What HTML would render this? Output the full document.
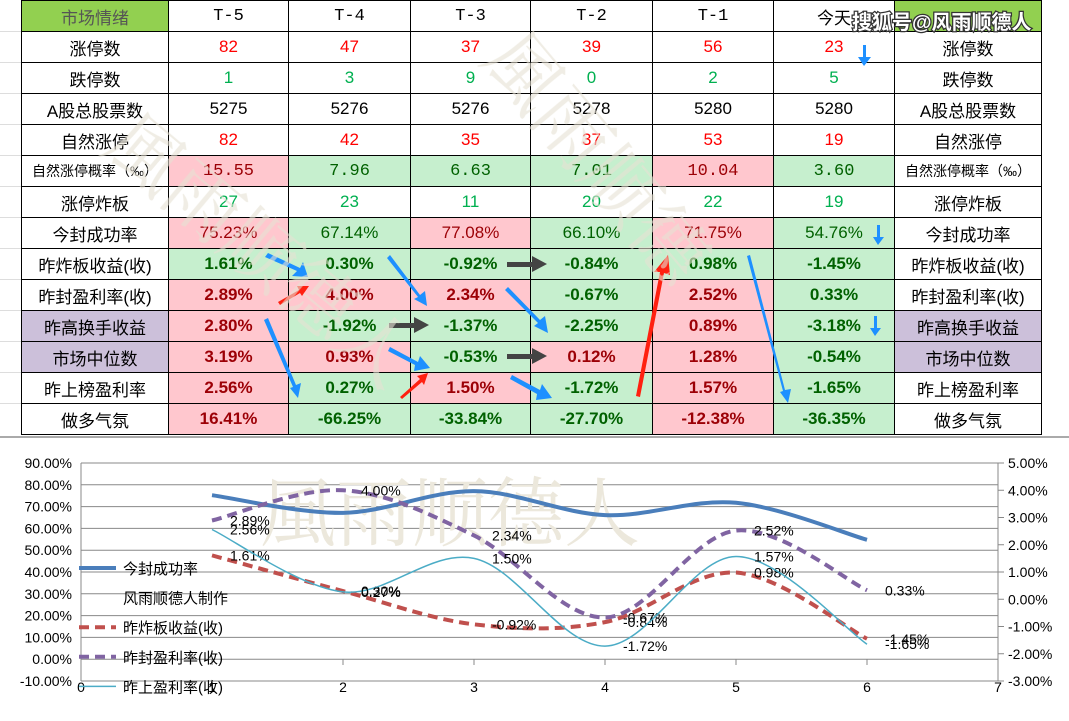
<!DOCTYPE html>
<html><head><meta charset="utf-8"><style>
body{margin:0;width:1069px;height:721px;background:#fff;position:relative;overflow:hidden;font-family:"Liberation Sans","Noto Sans CJK SC",sans-serif}
table{position:absolute;left:21px;top:0;border-collapse:collapse;table-layout:fixed}
td{border:1px solid #000;height:30px;padding:0;text-align:center;font-size:17px;white-space:nowrap;overflow:hidden}
td.l{font-family:"Liberation Sans","Noto Sans CJK SC",sans-serif;color:#000}
.s{font-family:"Liberation Sans","Noto Sans CJK SC",sans-serif}
.m{font-family:"Liberation Mono","Noto Sans CJK SC",monospace}
.r{color:#ff0000}.g{color:#00b050}
.P{background:#ffc7ce;color:#9c0006}.G{background:#c6efce;color:#006100}
.b td.P,.b td.G{font-weight:bold}
.pu{background:#ccc0da}
.hd{background:#92d050;color:#555}
.grid{position:absolute;left:0;width:21px;height:1px;background:#ddd}
</style></head><body>
<div class="grid" style="top:31px"></div><div class="grid" style="top:62px"></div><div class="grid" style="top:93px"></div><div class="grid" style="top:124px"></div><div class="grid" style="top:155px"></div><div class="grid" style="top:186px"></div><div class="grid" style="top:217px"></div><div class="grid" style="top:248px"></div><div class="grid" style="top:279px"></div><div class="grid" style="top:310px"></div><div class="grid" style="top:341px"></div><div class="grid" style="top:372px"></div><div class="grid" style="top:403px"></div>
<table>
<colgroup><col style="width:147px"><col style="width:120px"><col style="width:122px"><col style="width:120px"><col style="width:122px"><col style="width:121px"><col style="width:121px"><col style="width:147px"></colgroup>
<tr><td class="hd">市场情绪</td><td class="m">T-5</td><td class="m">T-4</td><td class="m">T-3</td><td class="m">T-2</td><td class="m">T-1</td><td class="s">今天</td><td class="hd"></td></tr>
<tr><td class="l">涨停数</td><td class="s r">82</td><td class="s r">47</td><td class="s r">37</td><td class="s r">39</td><td class="s r">56</td><td class="s r">23</td><td class="l">涨停数</td></tr>
<tr><td class="l">跌停数</td><td class="s g">1</td><td class="s g">3</td><td class="s g">9</td><td class="s g">0</td><td class="s g">2</td><td class="s g">5</td><td class="l">跌停数</td></tr>
<tr><td class="l">A股总股票数</td><td class="s">5275</td><td class="s">5276</td><td class="s">5276</td><td class="s">5278</td><td class="s">5280</td><td class="s">5280</td><td class="l">A股总股票数</td></tr>
<tr><td class="l">自然涨停</td><td class="s r">82</td><td class="s r">42</td><td class="s r">35</td><td class="s r">37</td><td class="s r">53</td><td class="s r">19</td><td class="l">自然涨停</td></tr>
<tr><td class="l" style="font-size:14px">自然涨停概率（‰）</td><td class="m P">15.55</td><td class="m G">7.96</td><td class="m G">6.63</td><td class="m G">7.01</td><td class="m P">10.04</td><td class="m G">3.60</td><td class="l" style="font-size:14px">自然涨停概率（‰）</td></tr>
<tr><td class="l">涨停炸板</td><td class="s g">27</td><td class="s g">23</td><td class="s g">11</td><td class="s g">20</td><td class="s g">22</td><td class="s g">19</td><td class="l">涨停炸板</td></tr>
<tr><td class="l">今封成功率</td><td class="P">75.23%</td><td class="G">67.14%</td><td class="P">77.08%</td><td class="G">66.10%</td><td class="P">71.75%</td><td class="G">54.76%</td><td class="l">今封成功率</td></tr>
<tr class="b"><td class="l">昨炸板收益(收)</td><td class="G">1.61%</td><td class="G">0.30%</td><td class="G">-0.92%</td><td class="G">-0.84%</td><td class="G">0.98%</td><td class="G">-1.45%</td><td class="l">昨炸板收益(收)</td></tr>
<tr class="b"><td class="l">昨封盈利率(收)</td><td class="P">2.89%</td><td class="P">4.00%</td><td class="P">2.34%</td><td class="G">-0.67%</td><td class="P">2.52%</td><td class="G">0.33%</td><td class="l">昨封盈利率(收)</td></tr>
<tr class="b"><td class="l pu">昨高换手收益</td><td class="P">2.80%</td><td class="G">-1.92%</td><td class="G">-1.37%</td><td class="G">-2.25%</td><td class="P">0.89%</td><td class="G">-3.18%</td><td class="l pu">昨高换手收益</td></tr>
<tr class="b"><td class="l pu">市场中位数</td><td class="P">3.19%</td><td class="P">0.93%</td><td class="G">-0.53%</td><td class="P">0.12%</td><td class="P">1.28%</td><td class="G">-0.54%</td><td class="l pu">市场中位数</td></tr>
<tr class="b"><td class="l">昨上榜盈利率</td><td class="P">2.56%</td><td class="G">0.27%</td><td class="P">1.50%</td><td class="G">-1.72%</td><td class="P">1.57%</td><td class="G">-1.65%</td><td class="l">昨上榜盈利率</td></tr>
<tr class="b"><td class="l">做多气氛</td><td class="P">16.41%</td><td class="G">-66.25%</td><td class="G">-33.84%</td><td class="G">-27.70%</td><td class="P">-12.38%</td><td class="G">-36.35%</td><td class="l">做多气氛</td></tr>
</table>
<div style="position:absolute;left:0;top:436px;width:1069px;height:2px;background:#aaa"></div>
<svg id="top" width="1069" height="721" style="position:absolute;left:0;top:0" font-family="Liberation Sans,Noto Sans CJK SC,sans-serif">
<g fill="#1e90ff">
<polygon points="268,253 300,268 303,262 308,277 292,276 297,271 265,257"/>
<polygon points="390,255 420,295 425,291 427,306 414,299 418,297 387,258"/>
<polygon points="268,318 296,385 301,383 298,398 290,388 293,387 264,320"/>
<polygon points="508,287 540,320 545,316 548,333 534,326 538,323 505,290"/>
<polygon points="390,347 418,362 420,356 430,368 414,371 415,365 388,351"/>
<polygon points="512,375 540,390 542,384 552,398 536,400 537,394 510,379"/>
<polygon points="750,255 785,390 791,389 788,403 780,392 783,391 747,256"/>
<polygon points="863,45 866,45 866,57 871,57 864,66 858,57 863,57"/>
<polygon points="877,225 880,225 880,237 884,237 878,245 873,237 877,237"/>
<polygon points="874,316 877,316 877,328 881,328 875,336 870,328 874,328"/>
</g>
<g fill="#ff2010">
<polygon points="278,302 299,290 297,286 309,286 302,296 300,293 280,305"/>
<polygon points="400,397 420,379 417,376 428,373 424,385 422,382 402,399"/>
<polygon points="636,396 660,272 654,272 668,255 670,275 664,273 640,397"/>
</g>
<g fill="#444">
<polygon points="507,262 532,262 532,256 547,264 532,272 532,267 507,267"/>
<polygon points="389,323 414,323 414,317 429,325 414,333 414,328 389,328"/>
<polygon points="507,354 532,354 532,348 547,356 532,364 532,359 507,359"/>
</g>
<g opacity="0.6">
<text x="100" y="150" font-size="75" fill="#e6e2d4" transform="rotate(40 100 150)" font-family="Noto Serif CJK SC,serif">風雨顺德人</text>
<text x="480" y="60" font-size="75" fill="#e6e2d4" transform="rotate(50 480 60)" font-family="Noto Serif CJK SC,serif">風雨顺德</text>
</g>
<text x="852" y="29" font-size="20" font-weight="bold" fill="#fff" stroke="#333" stroke-width="2.5" paint-order="stroke">搜狐号@风雨顺德人</text>
</svg>
<svg id="ch" width="1069" height="283" style="position:absolute;left:0;top:438px" font-family="Liberation Sans,Noto Sans CJK SC,sans-serif" font-size="14"></svg>
<script>
var s=document.getElementById('ch'),h='',T=-438;
function Y(v){return 463+(90-v)*2.18+T}function R(v){return 463+(5-v)*27.25+T}
for(var i=0;i<=10;i++){var y=463+i*21.8+T;h+='<line x1="81" x2="998" y1="'+y+'" y2="'+y+'" stroke="#888"/>';
h+='<text x="72" y="'+(y+5)+'" text-anchor="end">'+(90-i*10).toFixed(2)+'%</text>';}
for(i=0;i<=8;i++){var y=463+i*27.25+T;h+='<line x1="998" x2="1004" y1="'+y+'" y2="'+y+'" stroke="#888"/><text x="1008" y="'+(y+5)+'">'+(5-i).toFixed(2)+'%</text>';}
h+='<line x1="81" x2="81" y1="'+(463+T)+'" y2="'+(681+T)+'" stroke="#888"/><line x1="998" x2="998" y1="'+(463+T)+'" y2="'+(681+T)+'" stroke="#888"/>';
for(i=0;i<=7;i++){var x=81+i*131;h+='<line x1="'+x+'" x2="'+x+'" y1="'+(659+T)+'" y2="'+(665+T)+'" stroke="#888"/><text x="'+x+'" y="'+(692+T)+'" text-anchor="middle">'+i+'</text>';}
h+='<text x="450" y="'+(540+T)+'" font-size="76" fill="#ece8dc" text-anchor="middle" font-family="Noto Serif CJK SC,serif">風雨顺德人</text>';
function path(p){var d='M'+p[0][0]+','+p[0][1];for(var i=0;i<p.length-1;i++){var a=p[i-1]||p[i],b=p[i],c=p[i+1],e=p[i+2]||c;
d+=' C'+(b[0]+(c[0]-a[0])/6)+','+(b[1]+(c[1]-a[1])/6)+' '+(c[0]-(e[0]-b[0])/6)+','+(c[1]-(e[1]-b[1])/6)+' '+c[0]+','+c[1];}return d;}
function ser(v,f,st,w,da,lab){var p=v.map(function(q,i){return[212+i*131,f(q)]});
h+='<path d="'+path(p)+'" fill="none" stroke="'+st+'" stroke-width="'+w+'"'+(da?' stroke-dasharray="'+da+'"':'')+'/>';
if(lab)p.forEach(function(q,i){h+='<text x="'+(q[0]+18)+'" y="'+(q[1]+5)+'">'+v[i].toFixed(2)+'%</text>';});}
ser([75.23,67.14,77.08,66.10,71.75,54.76],Y,'#4a7ebb',4,0,0);
ser([1.61,0.30,-0.92,-0.84,0.98,-1.45],R,'#c0504d',4,'10,6',1);
ser([2.89,4.00,2.34,-0.67,2.52,0.33],R,'#8064a2',4,'10,6',1);
ser([2.56,0.27,1.50,-1.72,1.57,-1.65],R,'#4bacc6',1.5,0,1);
var L=[['今封成功率','#4a7ebb',4,0],['风雨顺德人制作',0],['昨炸板收益(收)','#c0504d',4,'10,6'],['昨封盈利率(收)','#8064a2',4,'10,6'],['昨上盈利率(收)','#4bacc6',1.5,0]];
L.forEach(function(l,i){var y=568+i*29.6+T;if(l[1])h+='<line x1="79" x2="116" y1="'+y+'" y2="'+y+'" stroke="'+l[1]+'" stroke-width="'+l[2]+'"'+(l[3]?' stroke-dasharray="'+l[3]+'"':'')+'/>';
h+='<text x="123" y="'+(y+6)+'" font-size="15">'+l[0]+'</text>';});
s.innerHTML=h;
</script>
</body></html>
